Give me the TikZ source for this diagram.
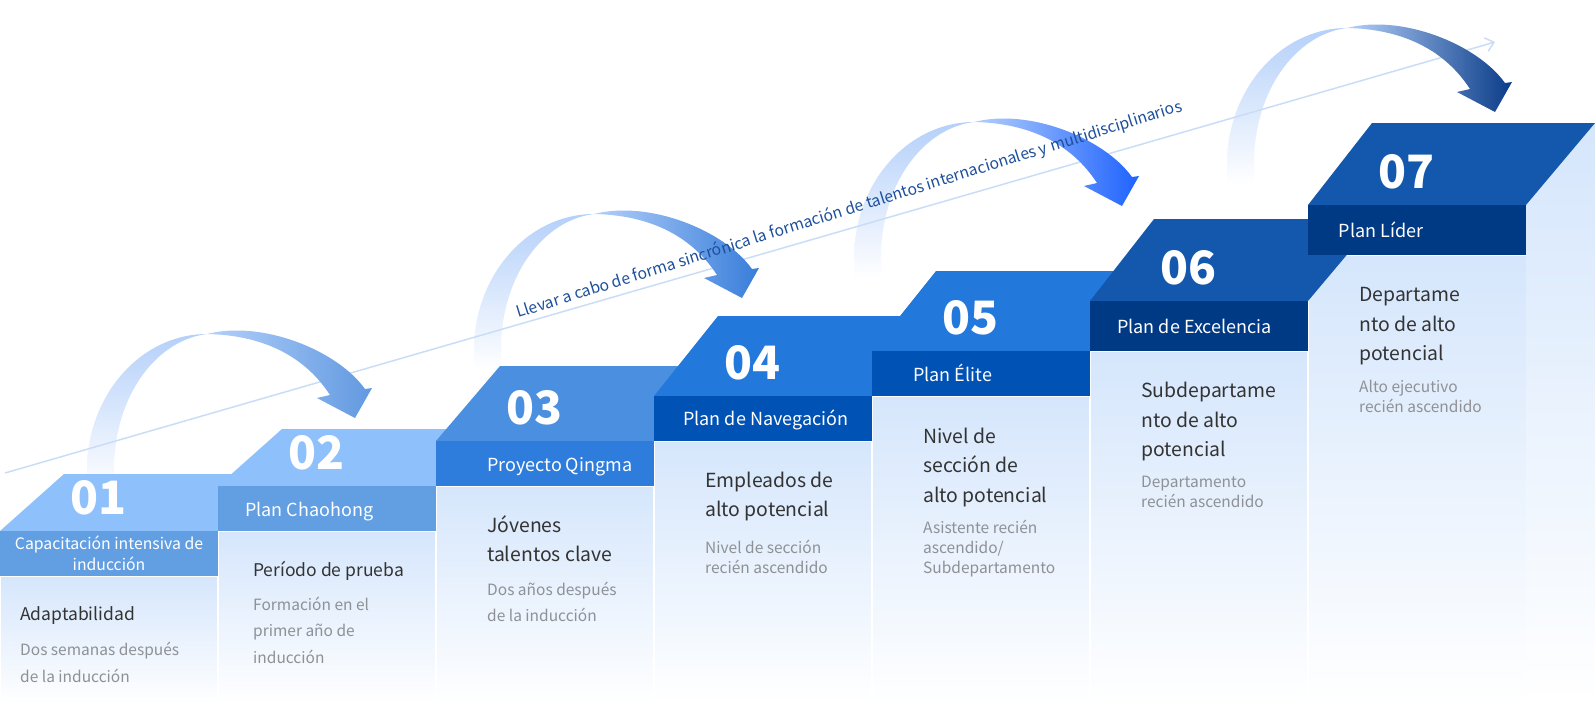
\documentclass[tikz,border=0pt]{standalone}
\usepackage{fontspec}
\setmainfont{Noto Sans CJK SC}
\usetikzlibrary{arrows.meta}

\definecolor{colbg}{HTML}{D5E6FC}
\definecolor{faceA}{HTML}{8EC0FC}
\definecolor{bandA}{HTML}{619EE2}
\definecolor{faceB}{HTML}{4A8FE0}
\definecolor{bandB}{HTML}{2E7CDB}
\definecolor{faceC}{HTML}{2379DB}
\definecolor{bandC}{HTML}{0052B5}
\definecolor{faceD}{HTML}{1458AD}
\definecolor{bandD}{HTML}{003A85}
\definecolor{maintext}{HTML}{333333}
\definecolor{subtext}{HTML}{8E9196}
\definecolor{guide}{HTML}{C9DDF7}
\definecolor{guidetext}{HTML}{1D4F9B}
\definecolor{arrlight}{HTML}{B4D0FA}
\definecolor{arrA}{HTML}{6199E0}
\definecolor{arrB}{HTML}{387DDA}
\definecolor{arrC}{HTML}{1E62FF}
\definecolor{arrD}{HTML}{0A3C88}

\begin{document}
\begin{tikzpicture}[x=1pt,y=-1pt,>={Straight Barb[length=8pt,width=14pt]},
    num/.style={text=white,font=\fontsize{46}{46}\selectfont\bfseries,anchor=base west,inner sep=0pt},
    band text/.style={text=white,font=\fontsize{18}{22}\selectfont,anchor=base west,inner sep=0pt},
    main text/.style={text=maintext,font=\fontsize{19.4}{29.5}\selectfont,align=left,anchor=base west,inner sep=0pt},
    main small/.style={main text,font=\fontsize{17.5}{29.5}\selectfont},
    sub text/.style={text=subtext,font=\fontsize{15.5}{26.5}\selectfont,align=left,anchor=base west,inner sep=0pt},
    sub tight/.style={sub text,font=\fontsize{15.5}{19.8}\selectfont}]

  \useasboundingbox (0,0) rectangle (1595,704);

  % rising legs of the arrows, behind the steps
  \foreach \x/\y in {87/470,474/350,854/258,1227/164}
    \shade[top color=arrlight,bottom color=white]
      (\x,\y+20) -- (\x,\y) .. controls (\x,\y-75) and (\x+54,\y-136) .. (\x+120,\y-136)
      .. controls (\x+70,\y-130) and (\x+27,\y-75) .. (\x+27,\y) -- (\x+27,\y+20) -- cycle;

  % columns
  \foreach \l/\e in {0/576,218/531,436/486,654/441,872/396,1090/351,1308/255}
    \shade[top color=colbg,middle color=colbg,bottom color=white] (\l,\e) rectangle (\l+218,704);
  \shade[top color=colbg,middle color=colbg,bottom color=white]
    (1526,205) -- (1595,123) -- (1595,704) -- (1526,704) -- cycle;
  \foreach \l/\e in {0/576,218/531,436/486,654/441,872/396,1090/351,1308/255}
    \draw[white,line width=1.2pt] (\l,704) -- (\l,\e) -- (\l+218,\e);

  % steps
  \foreach \i/\l/\t/\b/\e/\f/\c in {1/0/474/531/576/faceA/bandA,2/218/429/486/531/faceA/bandA,
      3/436/366/441/486/faceB/bandB,4/654/316/396/441/faceC/bandC,5/872/271/351/396/faceC/bandC,
      6/1090/219/301/351/faceD/bandD,7/1308/123/205/255/faceD/bandD} {
    \fill[\f] (\l,\b) -- (\l+64,\t) -- (\l+287,\t) -- (\l+218,\b) -- cycle;
    \fill[\c] (\l,\b) rectangle (\l+218,\e);
    \node[num] (n\i) at (\l+70,\b-17) {0\i};
  }

  % guide line
  \coordinate (gs) at (5,473);
  \coordinate (ge) at (1495,42);
  \draw[guide,line width=1.5pt,->] (gs) -- (ge);

  % arrow bodies and heads
  \foreach \x/\y/\c in {87/470/arrA,474/350/arrB,854/258/arrC,1227/164/arrD}
    \shade[left color=arrlight,right color=\c]
      (\x+120,\y-136) .. controls (\x+175,\y-150) and (\x+250,\y-120) .. (\x+278,\y-81)
      -- (\x+285,\y-82) -- (\x+268,\y-52) -- (\x+230,\y-72) -- (\x+243,\y-75)
      .. controls (\x+215,\y-118) and (\x+170,\y-135) .. (\x+120,\y-136) -- cycle;

  \node[text=guidetext,font=\fontsize{15.75}{16}\selectfont,rotate=17.3,anchor=base west,inner sep=0pt]
    (goal) at (518,318) {Llevar a cabo de forma sincrónica la formación de talentos internacionales y multidisciplinarios};

  % band labels
  \node[band text,font=\fontsize{15.8}{21}\selectfont,align=center,anchor=base] (b1) at (109,570)
    {Capacitación intensiva de\\inducción};
  \node[band text] (b2) at (245,516) {Plan Chaohong};
  \node[band text] (b3) at (487,471) {Proyecto Qingma};
  \node[band text] (b4) at (683,425.7) {Plan de Navegación};
  \node[band text] (b5) at (913,381) {Plan Élite};
  \node[band text] (b6) at (1117,333.3) {Plan de Excelencia};
  \node[band text] (b7) at (1338.5,237) {Plan Líder};

  % column texts (anchored on the last line)
  \node[main small] (m1) at (20,620.7) {Adaptabilidad};
  \node[sub text] (s1) at (20,682) {Dos semanas después\\de la inducción};
  \node[main small] (m2) at (253,576) {Período de prueba};
  \node[sub text] (s2) at (253,663) {Formación en el\\primer año de\\inducción};
  \node[main text] (m3) at (487,561.8) {Jóvenes\\talentos clave};
  \node[sub text] (s3) at (487,621.5) {Dos años después\\de la inducción};
  \node[main text] (m4) at (705,516.5) {Empleados de\\alto potencial};
  \node[sub tight] (s4) at (705,573.5) {Nivel de sección\\recién ascendido};
  \node[main text] (m5) at (923,502) {Nivel de\\sección de\\alto potencial};
  \node[sub tight] (s5) at (923,573) {Asistente recién\\ascendido/\\Subdepartamento};
  \node[main text] (m6) at (1141,456.7) {Subdepartame\\nto de alto\\potencial};
  \node[sub tight] (s6) at (1141,507.5) {Departamento\\recién ascendido};
  \node[main text] (m7) at (1359,360.7) {Departame\\nto de alto\\potencial};
  \node[sub tight] (s7) at (1359,412) {Alto ejecutivo\\recién ascendido};
\end{tikzpicture}
\end{document}
